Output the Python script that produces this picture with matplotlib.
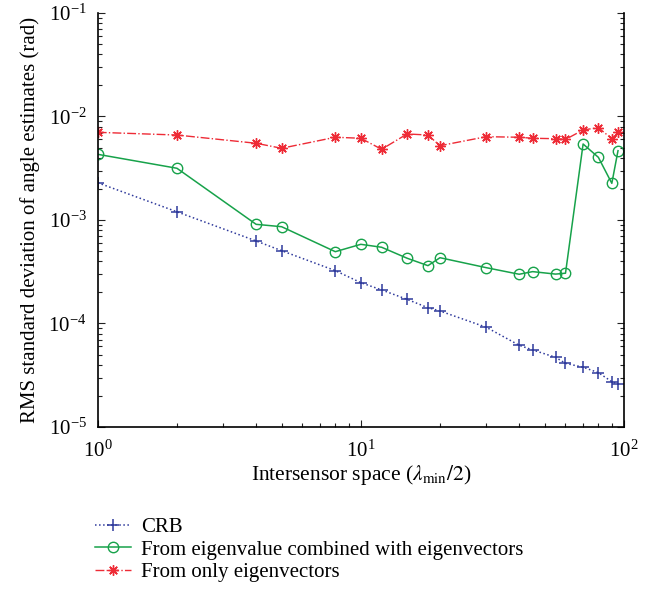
import matplotlib
matplotlib.use('Agg')
import matplotlib.pyplot as plt
import numpy as np

plt.rcParams['font.family'] = ['Liberation Serif', 'DejaVu Serif']
plt.rcParams['mathtext.fontset'] = 'stix'

# intersensor spacing (lambda_min/2)
spacing = [1, 2, 4, 5, 8, 10, 12, 15, 18, 20, 30, 40, 45, 55, 60, 70, 80, 90, 95]

crb = [2.29e-3, 1.20e-3, 6.27e-4, 5.05e-4, 3.24e-4, 2.48e-4, 2.11e-4, 1.71e-4,
       1.42e-4, 1.32e-4, 9.19e-5, 6.16e-5, 5.55e-5, 4.71e-5, 4.12e-5, 3.78e-5,
       3.35e-5, 2.74e-5, 2.59e-5]

eig_combined = [4.31e-3, 3.16e-3, 9.08e-4, 8.61e-4, 4.94e-4, 5.82e-4, 5.45e-4,
                4.27e-4, 3.62e-4, 4.32e-4, 3.46e-4, 2.99e-4, 3.17e-4, 3.00e-4,
                3.06e-4, 5.42e-3, 4.03e-3, 2.26e-3, 4.67e-3]

eig_only = [7.03e-3, 6.62e-3, 5.51e-3, 4.93e-3, 6.30e-3, 6.16e-3, 4.82e-3,
            6.78e-3, 6.62e-3, 5.22e-3, 6.38e-3, 6.30e-3, 6.16e-3, 6.10e-3,
            6.00e-3, 7.41e-3, 7.80e-3, 6.10e-3, 7.03e-3]

labels = ['CRB', 'From eigenvalue combined with eigenvectors', 'From only eigenvectors']

blue = '#2f3a9c'
green = '#17a24a'
red = '#ee2b36'

fig = plt.figure(figsize=(6.56, 5.90), dpi=100)
ax = fig.add_axes([0.149, 0.2763, 0.802, 0.7017])

ax.plot(spacing, crb, ':', color=blue, marker='+', markersize=8,
        markeredgewidth=1.1, linewidth=1.1, label=labels[0])
ax.plot(spacing, eig_combined, '-', color=green, marker='o', markersize=7.5,
        markerfacecolor='none', markeredgewidth=1.0, linewidth=1.1, label=labels[1])
ax.plot(spacing, eig_only, '-.', color=red, marker=(8, 2, 0), markersize=7.5,
        markeredgewidth=1.0, linewidth=1.0, label=labels[2])

ax.set_xscale('log')
ax.set_yscale('log')
ax.set_xlim(1, 100)
ax.set_ylim(1e-5, 1e-1)

ax.spines['top'].set_visible(False)
ax.tick_params(which='both', direction='in', top=False, right=True,
               labelsize=15, width=0.8, color='#222222')
ax.tick_params(which='major', length=5)
ax.tick_params(axis='y', which='major', pad=8)
ax.tick_params(axis='x', which='major', pad=10)
ax.tick_params(which='minor', length=3)
for s in ax.spines.values():
    s.set_linewidth(1.2)

ax.set_xlabel(r'Intersensor space ($\lambda_{\rm min}/2$)', fontsize=15.5, labelpad=1)
ax.set_ylabel('RMS standard deviation of angle estimates (rad)', fontsize=15, labelpad=6)

fig.legend(loc='upper left', bbox_to_anchor=(0.145, 0.123), frameon=False,
           fontsize=15, borderpad=0, borderaxespad=0, handlelength=1.7,
           handletextpad=0.5, labelspacing=0.14)

fig.savefig('out.png', dpi=100)
